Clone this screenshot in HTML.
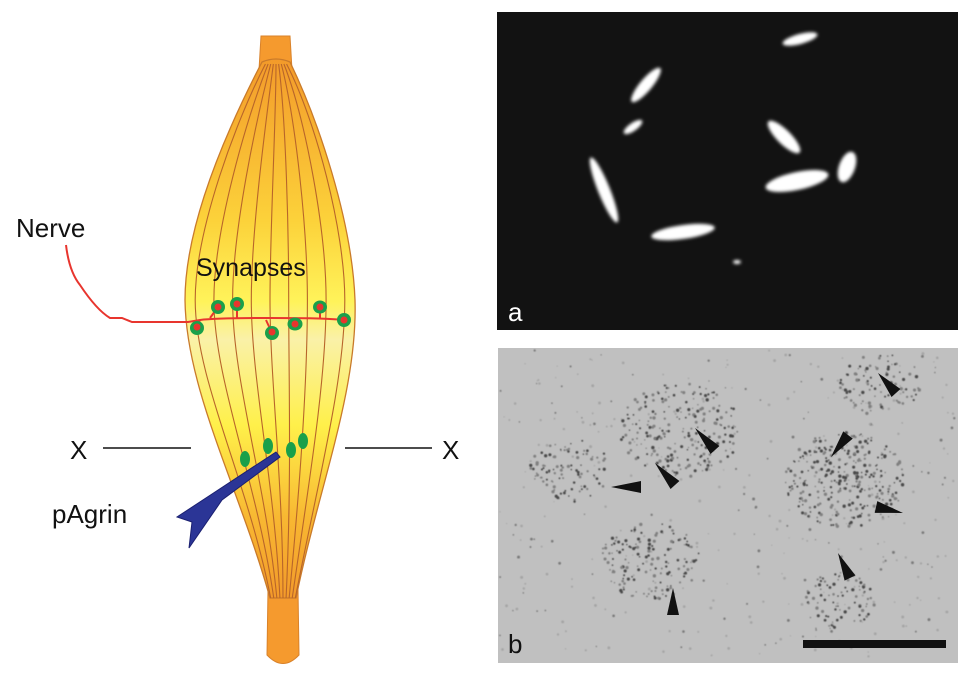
<!DOCTYPE html>
<html><head><meta charset="utf-8"><style>
html,body{margin:0;padding:0;background:#fff;}
svg{display:block;}
text{font-family:"Liberation Sans",Arial,sans-serif;}
</style></head><body>
<svg id="s" width="980" height="675" viewBox="0 0 980 675" xmlns="http://www.w3.org/2000/svg">
<defs>
<linearGradient id="mg" x1="0" y1="0" x2="0" y2="1">
<stop offset="0" stop-color="#f39a2a"/>
<stop offset="0.3" stop-color="#fcd23a"/>
<stop offset="0.45" stop-color="#fff35a"/>
<stop offset="0.52" stop-color="#faf1a8"/>
<stop offset="0.68" stop-color="#fff04a"/>
<stop offset="0.85" stop-color="#f8b832"/>
<stop offset="1" stop-color="#f39a2a"/>
</linearGradient>
<filter id="bl"><feGaussianBlur stdDeviation="1.5"/></filter>
<filter id="bl2"><feGaussianBlur stdDeviation="0.5"/></filter>
</defs>
<path d="M261,36 L290,36 L292,70 L259,70 Z" fill="#f59a2e" stroke="#d9822a" stroke-width="1"/>
<path d="M268,590 L298,590 L299,655 Q283,672 267,655 Z" fill="#f59a2e" stroke="#d9822a" stroke-width="1"/>
<path d="M262,62 Q276,56 290,62 C318,120 352,220 355,300 C358,390 318,490 296,598 L270,598 C240,490 186,390 185,300 C185,220 232,120 262,62 Z" fill="url(#mg)" stroke="#c97a2a" stroke-width="1.3"/>
<g id="fib" fill="none" stroke="#b8652a" stroke-width="1.1"></g>
<text x="196" y="276" font-size="25" fill="#111">Synapses</text>
<text x="16" y="237" font-size="26" fill="#111">Nerve</text>
<path d="M66,245 C68,262 72,275 80,285 C90,300 100,312 110,318 L122,318 L132,322 L188,322 L200,320 C215,318 250,318 270,318 C300,318 320,318 345,320" fill="none" stroke="#e8352e" stroke-width="2"/>
<g stroke="#e8352e" stroke-width="2" fill="none">
<path d="M200,320 L197,327"/><path d="M210,318 L218,307"/><path d="M237,318 L237,304"/><path d="M266,320 L272,333"/><path d="M295,320 L295,324"/><path d="M320,318 L320,307"/>
</g>
<g fill="#1aa04a">
<ellipse cx="197" cy="328" rx="7" ry="7"/><ellipse cx="218" cy="307" rx="7" ry="7"/><ellipse cx="237" cy="304" rx="7" ry="7"/><ellipse cx="272" cy="333" rx="7" ry="7"/><ellipse cx="295" cy="324" rx="7.5" ry="6.5"/><ellipse cx="320" cy="307" rx="7" ry="6.5"/><ellipse cx="344" cy="320" rx="7" ry="7"/>
</g>
<g fill="#e8352e">
<circle cx="197" cy="327" r="3.5"/><circle cx="218" cy="307" r="3.5"/><circle cx="237" cy="304" r="3.5"/><circle cx="272" cy="332" r="3.5"/><circle cx="295" cy="324" r="3.5"/><circle cx="320" cy="307" r="3.5"/><circle cx="344" cy="320" r="3.5"/>
</g>
<g fill="#1aa04a">
<ellipse cx="245" cy="459" rx="5" ry="8"/><ellipse cx="268" cy="446" rx="5" ry="8"/><ellipse cx="291" cy="450" rx="5" ry="8"/><ellipse cx="303" cy="441" rx="5" ry="8"/>
</g>
<path d="M276,452 L280,457 L222,500 L189,548 L192,522 L177,517 L212,494 Z" fill="#2b3596" stroke="#1b2070" stroke-width="1"/>
<text x="52" y="523" font-size="26" fill="#111">pAgrin</text>
<text x="70" y="459" font-size="26" fill="#111">X</text>
<text x="442" y="459" font-size="26" fill="#111">X</text>
<line x1="103" y1="448" x2="191" y2="448" stroke="#111" stroke-width="1.5"/>
<line x1="345" y1="448" x2="432" y2="448" stroke="#111" stroke-width="1.5"/>
<rect x="497" y="12" width="461" height="318" fill="#121212"/>
<g fill="#ffffff" filter="url(#bl)">
<ellipse cx="800" cy="39" rx="18" ry="5" transform="rotate(-15 800 39)"/>
<ellipse cx="646" cy="85" rx="22" ry="6" transform="rotate(-50 646 85)"/>
<ellipse cx="633" cy="127" rx="11" ry="4" transform="rotate(-35 633 127)"/>
<ellipse cx="604" cy="190" rx="35" ry="6" transform="rotate(68 604 190)"/>
<ellipse cx="683" cy="232" rx="32" ry="7" transform="rotate(-8 683 232)"/>
<ellipse cx="784" cy="137" rx="22" ry="7" transform="rotate(45 784 137)"/>
<ellipse cx="797" cy="181" rx="32" ry="9" transform="rotate(-12 797 181)"/>
<ellipse cx="847" cy="167" rx="8" ry="16" transform="rotate(20 847 167)"/>
<ellipse cx="737" cy="262" rx="4" ry="2"/>
</g>
<text x="508" y="321" font-size="26" fill="#fff">a</text>
<rect x="498" y="348" width="460" height="315" fill="#c0c0c0"/>
<g id="dots" filter="url(#bl2)"></g>
<g id="arr" fill="#111"></g>
<rect x="803" y="640" width="143" height="8" fill="#111"/>
<text x="508" y="653" font-size="26" fill="#111">b</text>
</svg>
<script>
var ns="http://www.w3.org/2000/svg";
var F=document.getElementById("fib");
for(var k=-4;k<=4;k++){var f=k*0.22;var p=document.createElementNS(ns,"path");
p.setAttribute("d","M"+(276+f*12)+",64 C"+(276+f*45)+",120 "+(270+f*85)+",230 "+(270+f*85)+",300 C"+(270+f*85)+",380 "+(283+f*40)+",480 "+(283+f*14)+",598");F.appendChild(p);}
var seed=7;function r(){seed=(seed*16807)%2147483647;return seed/2147483647;}
var d=document.getElementById("dots");
var cl=[[680,430,60,220],[845,480,60,300],[650,560,50,150],[880,385,40,90],[570,470,40,90],[840,600,35,80]];
function dot(x,y,rad,c){var e=document.createElementNS(ns,"circle");e.setAttribute("cx",x);e.setAttribute("cy",y);e.setAttribute("r",rad);e.setAttribute("fill",c);d.appendChild(e);}
for(var i=0;i<400;i++){dot(500+r()*456,350+r()*310,0.6+r()*0.9,r()<0.4?"#7a7a7a":"#a5a5a5");}
cl.forEach(function(c){for(var i=0;i<c[3];i++){var a=r()*6.283,rr=Math.sqrt(r())*c[2];dot(c[0]+Math.cos(a)*rr,c[1]+Math.sin(a)*rr*0.8,0.7+r()*1.0,r()<0.5?"#4a4a4a":"#808080");}});
var A=document.getElementById("arr");
var ar=[[878,373,896,393],[695,428,715,450],[655,463,675,485],[611,487,641,487],[831,457,848,435],[903,513,876,507],[838,553,850,578],[673,588,673,615]];
ar.forEach(function(q){var dx=q[2]-q[0],dy=q[3]-q[1],L=Math.hypot(dx,dy),px=-dy/L*6,py=dx/L*6;
var p=document.createElementNS(ns,"polygon");p.setAttribute("points",q[0]+","+q[1]+" "+(q[2]+px)+","+(q[3]+py)+" "+(q[2]-px)+","+(q[3]-py));A.appendChild(p);});
</script>
</body></html>
